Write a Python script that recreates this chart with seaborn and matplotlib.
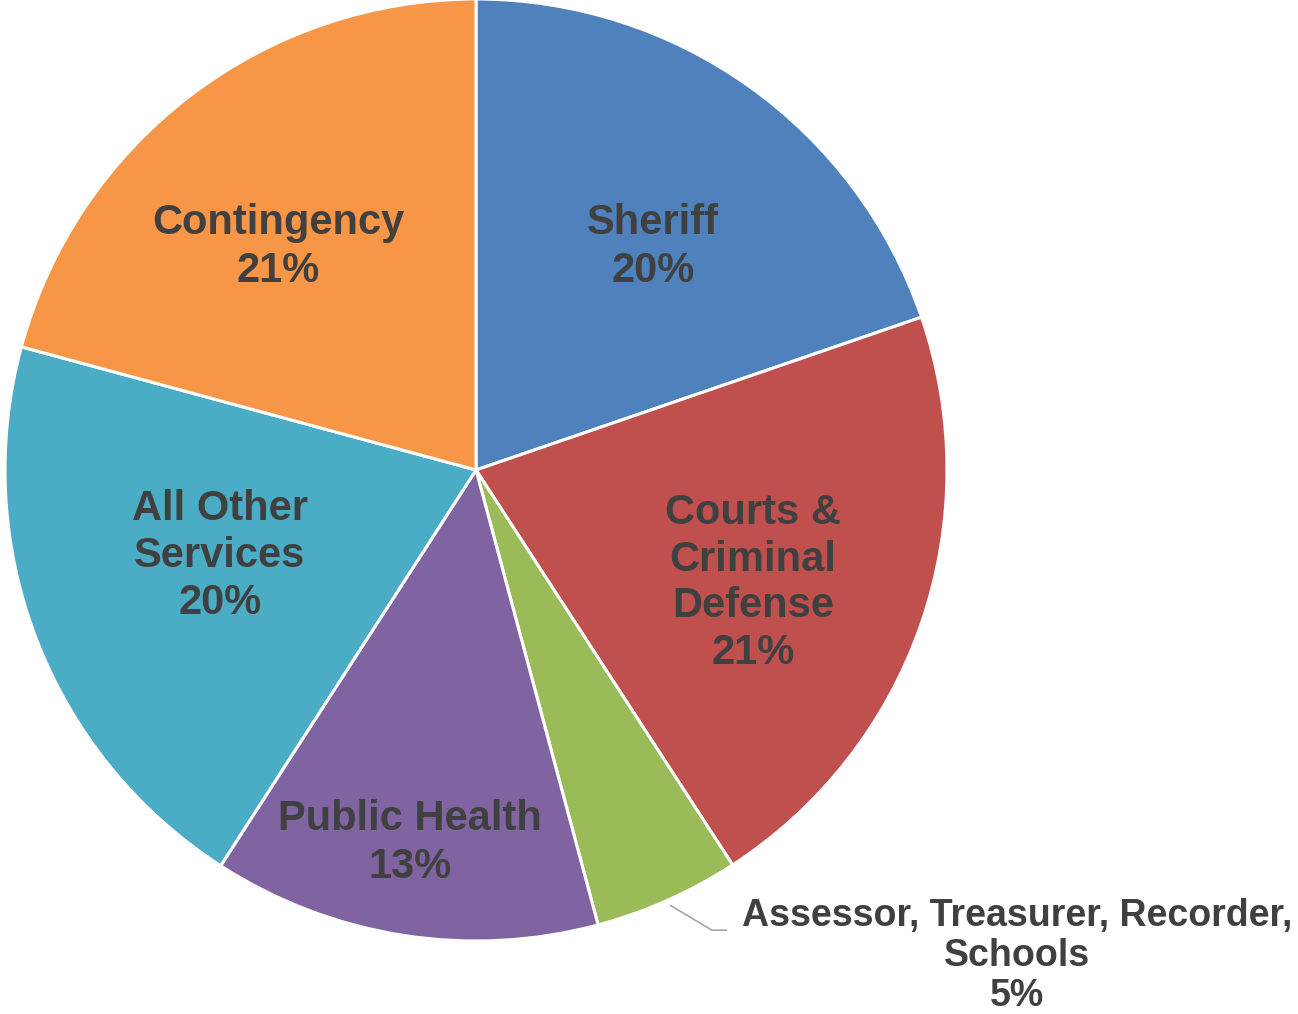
import matplotlib
matplotlib.use("Agg")
import matplotlib.pyplot as plt
import seaborn as sns

categories = ["Sheriff", "Courts &\nCriminal\nDefense", "Assessor, Treasurer, Recorder,\nSchools",
              "Public Health", "All Other\nServices", "Contingency"]
values = [19.75, 21.1, 5.0, 13.3, 20.1, 20.8]
colors = ["#4F81BD", "#C0504D", "#9BBB59", "#8064A2", "#4BACC6", "#F79646"]

sns.set_theme(style="white")
plt.rcParams["font.family"] = ["Liberation Sans", "DejaVu Sans"]

W, H = 1298, 1014
fig = plt.figure(figsize=(W / 100, H / 100), dpi=100)
cx, cy, r = 476, 470, 471
ax = fig.add_axes([(cx - r) / W, (H - cy - r) / H, 2 * r / W, 2 * r / H])

wedges, _ = ax.pie(values, colors=colors, startangle=90, counterclock=False,
                   wedgeprops=dict(edgecolor="white", linewidth=2.2), radius=1)
ax.set_xlim(-1, 1)
ax.set_ylim(-1, 1)
ax.set_aspect("equal")
ax.axis("off")

# label anchor positions (data coords of axes)
label_pos = [(0.376, 0.473), (0.588, -0.240), (1.149, -1.032),
             (-0.140, -0.792), (-0.544, -0.183), (-0.420, 0.473)]
sizes = [30, 30, 27, 30, 30, 30]
spacings = [1.24, 1.22, 1.15, 1.24, 1.22, 1.24]
txtcol = "#404040"
for cat, v, (x, y), fs, ls in zip(categories, values, label_pos, sizes, spacings):
    ax.text(x, y, f"{cat}\n{round(v)}%", ha="center", va="center", multialignment="center",
            fontsize=fs, fontweight="bold", color=txtcol, linespacing=ls, clip_on=False)

# leader line for small slice
ax.plot([0.412, 0.501, 0.533], [-0.924, -0.977, -0.977], color="#A6A6A6", lw=1.2,
        clip_on=False, solid_capstyle="butt")

fig.savefig("out.png", dpi=100, facecolor="white")
